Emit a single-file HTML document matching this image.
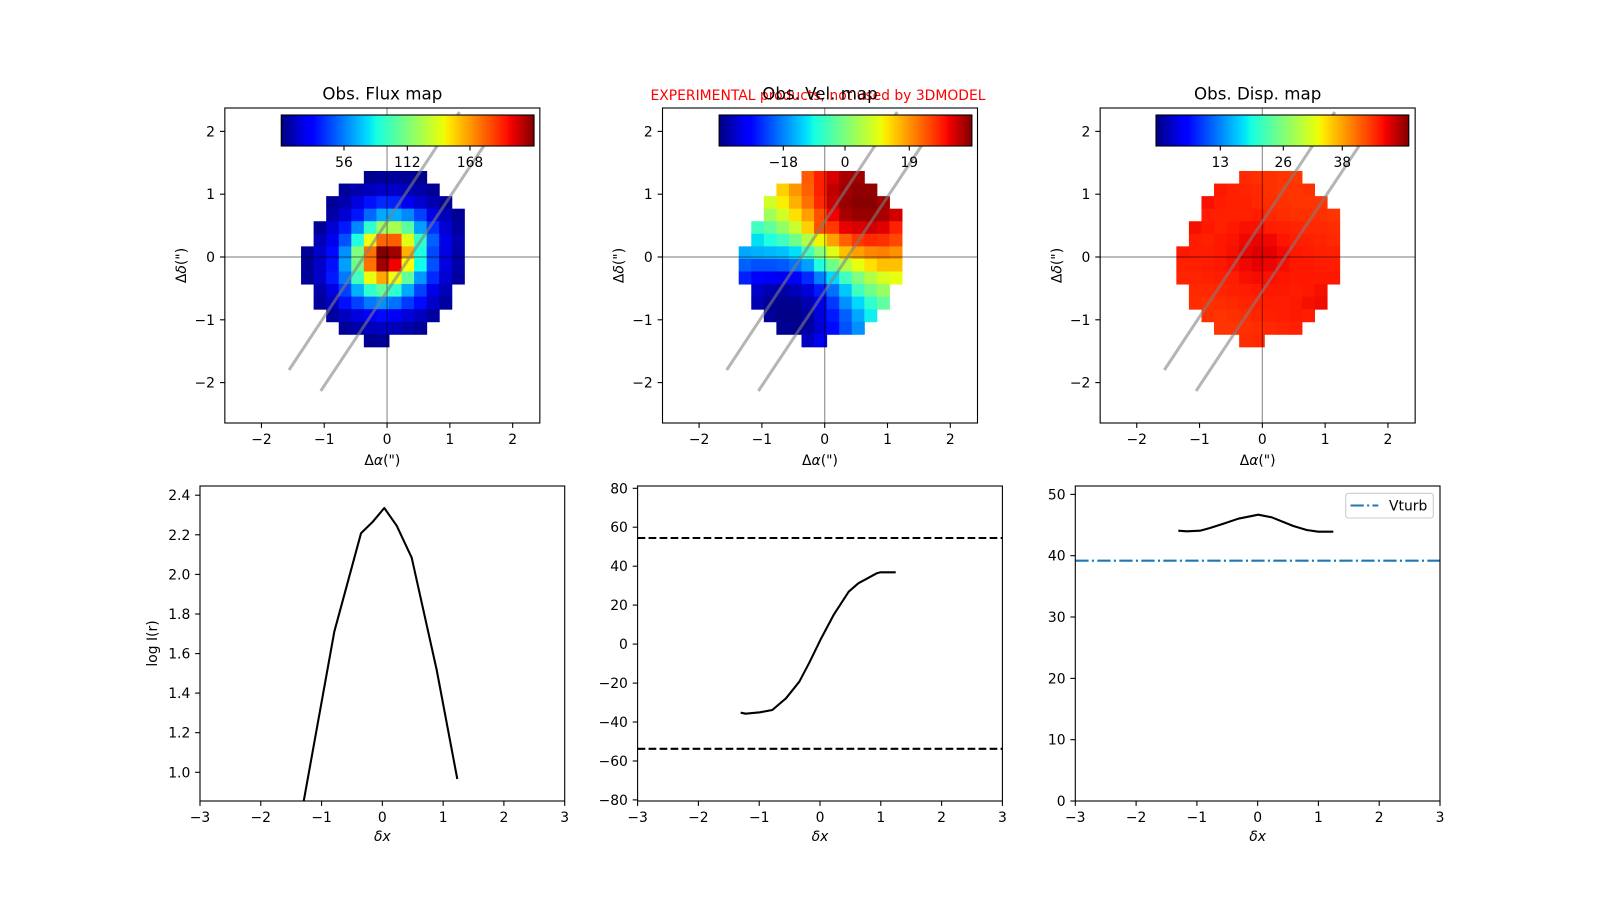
<!DOCTYPE html>
<html><head><meta charset="utf-8"><style>
html,body{margin:0;padding:0;background:#fff;}
svg{display:block;font-family:"DejaVu Sans","Liberation Sans",sans-serif;}
.t{font-size:13.9px;fill:#000;}
.ti{font-size:16.67px;fill:#000;}
</style></head><body>
<svg width="1600" height="900" viewBox="0 0 1600 900" xmlns="http://www.w3.org/2000/svg">
<defs>
<linearGradient id="jet" x1="0" y1="0" x2="1" y2="0">
<stop offset="0" stop-color="#000080"/><stop offset="0.11" stop-color="#0000ff"/><stop offset="0.125" stop-color="#0000ff"/>
<stop offset="0.34" stop-color="#00dbff"/><stop offset="0.35" stop-color="#00e5f7"/><stop offset="0.375" stop-color="#14ffe3"/>
<stop offset="0.5" stop-color="#7dff7a"/><stop offset="0.64" stop-color="#ebff08"/><stop offset="0.66" stop-color="#ffea00"/>
<stop offset="0.89" stop-color="#ff1200"/><stop offset="0.91" stop-color="#f20000"/><stop offset="1" stop-color="#800000"/>
</linearGradient>
<clipPath id="c1"><rect x="224.85" y="108" width="315" height="315"/></clipPath>
<clipPath id="c2"><rect x="662.5" y="108" width="315" height="315"/></clipPath>
<clipPath id="c3"><rect x="1100.15" y="108" width="315" height="315"/></clipPath>
<clipPath id="b1"><rect x="200" y="486" width="364.7" height="315"/></clipPath>
<clipPath id="b2"><rect x="637.6" y="486" width="364.8" height="315"/></clipPath>
<clipPath id="b3"><rect x="1075.3" y="486" width="364.7" height="315"/></clipPath>
</defs>
<rect width="1600" height="900" fill="#fff"/>

<!-- ================= FLUX MAP ================= -->
<g clip-path="url(#c1)">
<g transform="translate(301.05,171) scale(12.56)">
<rect x="5" y="0" width="1.04" height="1.04" fill="#00008f"/><rect x="6" y="0" width="1.04" height="1.04" fill="#000099"/><rect x="7" y="0" width="1.04" height="1.04" fill="#00009c"/><rect x="8" y="0" width="1.04" height="1.04" fill="#000096"/><rect x="9" y="0" width="1.04" height="1.04" fill="#00008c"/>
<rect x="3" y="1" width="1.04" height="1.04" fill="#00009a"/><rect x="4" y="1" width="1.04" height="1.04" fill="#0000ac"/><rect x="5" y="1" width="1.04" height="1.04" fill="#0000bc"/><rect x="6" y="1" width="1.04" height="1.04" fill="#0000cc"/><rect x="7" y="1" width="1.04" height="1.04" fill="#0000c8"/><rect x="8" y="1" width="1.04" height="1.04" fill="#0000b8"/><rect x="9" y="1" width="1.04" height="1.04" fill="#0000a8"/><rect x="10" y="1" width="1.04" height="1.04" fill="#000096"/>
<rect x="2" y="2" width="1.04" height="1.04" fill="#000096"/><rect x="3" y="2" width="1.04" height="1.04" fill="#0000b0"/><rect x="4" y="2" width="1.04" height="1.04" fill="#0000e0"/><rect x="5" y="2" width="1.04" height="1.04" fill="#0010ff"/><rect x="6" y="2" width="1.04" height="1.04" fill="#0028ff"/><rect x="7" y="2" width="1.04" height="1.04" fill="#0020ff"/><rect x="8" y="2" width="1.04" height="1.04" fill="#0000f0"/><rect x="9" y="2" width="1.04" height="1.04" fill="#0000d0"/><rect x="10" y="2" width="1.04" height="1.04" fill="#0000b0"/><rect x="11" y="2" width="1.04" height="1.04" fill="#000098"/>
<rect x="2" y="3" width="1.04" height="1.04" fill="#0000a4"/><rect x="3" y="3" width="1.04" height="1.04" fill="#0000d4"/><rect x="4" y="3" width="1.04" height="1.04" fill="#0014ff"/><rect x="5" y="3" width="1.04" height="1.04" fill="#0068ff"/><rect x="6" y="3" width="1.04" height="1.04" fill="#00a8ff"/><rect x="7" y="3" width="1.04" height="1.04" fill="#00acff"/><rect x="8" y="3" width="1.04" height="1.04" fill="#0088ff"/><rect x="9" y="3" width="1.04" height="1.04" fill="#0040ff"/><rect x="10" y="3" width="1.04" height="1.04" fill="#0000e4"/><rect x="11" y="3" width="1.04" height="1.04" fill="#0000b8"/><rect x="12" y="3" width="1.04" height="1.04" fill="#000096"/>
<rect x="1" y="4" width="1.04" height="1.04" fill="#000094"/><rect x="2" y="4" width="1.04" height="1.04" fill="#0000d0"/><rect x="3" y="4" width="1.04" height="1.04" fill="#0018ff"/><rect x="4" y="4" width="1.04" height="1.04" fill="#0088ff"/><rect x="5" y="4" width="1.04" height="1.04" fill="#30ffd0"/><rect x="6" y="4" width="1.04" height="1.04" fill="#a0ff60"/><rect x="7" y="4" width="1.04" height="1.04" fill="#a8ff50"/><rect x="8" y="4" width="1.04" height="1.04" fill="#5cffa0"/><rect x="9" y="4" width="1.04" height="1.04" fill="#00a0ff"/><rect x="10" y="4" width="1.04" height="1.04" fill="#0030ff"/><rect x="11" y="4" width="1.04" height="1.04" fill="#0000d0"/><rect x="12" y="4" width="1.04" height="1.04" fill="#0000a0"/>
<rect x="1" y="5" width="1.04" height="1.04" fill="#0000b8"/><rect x="2" y="5" width="1.04" height="1.04" fill="#0000ec"/><rect x="3" y="5" width="1.04" height="1.04" fill="#0050ff"/><rect x="4" y="5" width="1.04" height="1.04" fill="#20ffe0"/><rect x="5" y="5" width="1.04" height="1.04" fill="#f0ff10"/><rect x="6" y="5" width="1.04" height="1.04" fill="#ff6400"/><rect x="7" y="5" width="1.04" height="1.04" fill="#ff5c00"/><rect x="8" y="5" width="1.04" height="1.04" fill="#e0ff18"/><rect x="9" y="5" width="1.04" height="1.04" fill="#30ffc8"/><rect x="10" y="5" width="1.04" height="1.04" fill="#0060ff"/><rect x="11" y="5" width="1.04" height="1.04" fill="#0000e8"/><rect x="12" y="5" width="1.04" height="1.04" fill="#0000b0"/>
<rect x="0" y="6" width="1.04" height="1.04" fill="#000098"/><rect x="1" y="6" width="1.04" height="1.04" fill="#0000c8"/><rect x="2" y="6" width="1.04" height="1.04" fill="#0008ff"/><rect x="3" y="6" width="1.04" height="1.04" fill="#0090ff"/><rect x="4" y="6" width="1.04" height="1.04" fill="#80ff80"/><rect x="5" y="6" width="1.04" height="1.04" fill="#ff7000"/><rect x="6" y="6" width="1.04" height="1.04" fill="#800000"/><rect x="7" y="6" width="1.04" height="1.04" fill="#a00000"/><rect x="8" y="6" width="1.04" height="1.04" fill="#ffb000"/><rect x="9" y="6" width="1.04" height="1.04" fill="#20ffe0"/><rect x="10" y="6" width="1.04" height="1.04" fill="#0048ff"/><rect x="11" y="6" width="1.04" height="1.04" fill="#0000e0"/><rect x="12" y="6" width="1.04" height="1.04" fill="#0000a8"/>
<rect x="0" y="7" width="1.04" height="1.04" fill="#000098"/><rect x="1" y="7" width="1.04" height="1.04" fill="#0000c8"/><rect x="2" y="7" width="1.04" height="1.04" fill="#0010ff"/><rect x="3" y="7" width="1.04" height="1.04" fill="#00a0ff"/><rect x="4" y="7" width="1.04" height="1.04" fill="#70ff88"/><rect x="5" y="7" width="1.04" height="1.04" fill="#ff7000"/><rect x="6" y="7" width="1.04" height="1.04" fill="#a00000"/><rect x="7" y="7" width="1.04" height="1.04" fill="#f00000"/><rect x="8" y="7" width="1.04" height="1.04" fill="#ffff00"/><rect x="9" y="7" width="1.04" height="1.04" fill="#10ffe8"/><rect x="10" y="7" width="1.04" height="1.04" fill="#0050ff"/><rect x="11" y="7" width="1.04" height="1.04" fill="#0000e0"/><rect x="12" y="7" width="1.04" height="1.04" fill="#0000a8"/>
<rect x="0" y="8" width="1.04" height="1.04" fill="#000098"/><rect x="1" y="8" width="1.04" height="1.04" fill="#0000c8"/><rect x="2" y="8" width="1.04" height="1.04" fill="#0018ff"/><rect x="3" y="8" width="1.04" height="1.04" fill="#0078ff"/><rect x="4" y="8" width="1.04" height="1.04" fill="#40ffc0"/><rect x="5" y="8" width="1.04" height="1.04" fill="#e8ff10"/><rect x="6" y="8" width="1.04" height="1.04" fill="#ffa800"/><rect x="7" y="8" width="1.04" height="1.04" fill="#f0ff10"/><rect x="8" y="8" width="1.04" height="1.04" fill="#60ffa0"/><rect x="9" y="8" width="1.04" height="1.04" fill="#0098ff"/><rect x="10" y="8" width="1.04" height="1.04" fill="#0028ff"/><rect x="11" y="8" width="1.04" height="1.04" fill="#0000d0"/><rect x="12" y="8" width="1.04" height="1.04" fill="#0000a0"/>
<rect x="1" y="9" width="1.04" height="1.04" fill="#0000a8"/><rect x="2" y="9" width="1.04" height="1.04" fill="#0000e0"/><rect x="3" y="9" width="1.04" height="1.04" fill="#0040ff"/><rect x="4" y="9" width="1.04" height="1.04" fill="#00b0ff"/><rect x="5" y="9" width="1.04" height="1.04" fill="#30ffd0"/><rect x="6" y="9" width="1.04" height="1.04" fill="#60ffa0"/><rect x="7" y="9" width="1.04" height="1.04" fill="#30ffd0"/><rect x="8" y="9" width="1.04" height="1.04" fill="#00a8ff"/><rect x="9" y="9" width="1.04" height="1.04" fill="#0040ff"/><rect x="10" y="9" width="1.04" height="1.04" fill="#0000e8"/><rect x="11" y="9" width="1.04" height="1.04" fill="#0000b8"/>
<rect x="1" y="10" width="1.04" height="1.04" fill="#00009c"/><rect x="2" y="10" width="1.04" height="1.04" fill="#0000c0"/><rect x="3" y="10" width="1.04" height="1.04" fill="#0010ff"/><rect x="4" y="10" width="1.04" height="1.04" fill="#0040ff"/><rect x="5" y="10" width="1.04" height="1.04" fill="#0078ff"/><rect x="6" y="10" width="1.04" height="1.04" fill="#0090ff"/><rect x="7" y="10" width="1.04" height="1.04" fill="#0070ff"/><rect x="8" y="10" width="1.04" height="1.04" fill="#0038ff"/><rect x="9" y="10" width="1.04" height="1.04" fill="#0008ff"/><rect x="10" y="10" width="1.04" height="1.04" fill="#0000c8"/><rect x="11" y="10" width="1.04" height="1.04" fill="#0000a0"/>
<rect x="2" y="11" width="1.04" height="1.04" fill="#00009c"/><rect x="3" y="11" width="1.04" height="1.04" fill="#0000c0"/><rect x="4" y="11" width="1.04" height="1.04" fill="#0000e0"/><rect x="5" y="11" width="1.04" height="1.04" fill="#0000f8"/><rect x="6" y="11" width="1.04" height="1.04" fill="#0008ff"/><rect x="7" y="11" width="1.04" height="1.04" fill="#0000f8"/><rect x="8" y="11" width="1.04" height="1.04" fill="#0000d8"/><rect x="9" y="11" width="1.04" height="1.04" fill="#0000c0"/><rect x="10" y="11" width="1.04" height="1.04" fill="#0000a0"/>
<rect x="3" y="12" width="1.04" height="1.04" fill="#000098"/><rect x="4" y="12" width="1.04" height="1.04" fill="#0000a8"/><rect x="5" y="12" width="1.04" height="1.04" fill="#0000b8"/><rect x="6" y="12" width="1.04" height="1.04" fill="#0000c0"/><rect x="7" y="12" width="1.04" height="1.04" fill="#0000b8"/><rect x="8" y="12" width="1.04" height="1.04" fill="#0000a8"/><rect x="9" y="12" width="1.04" height="1.04" fill="#000098"/>
<rect x="5" y="13" width="1.04" height="1.04" fill="#000090"/><rect x="6" y="13" width="1.04" height="1.04" fill="#000098"/>
</g>
<g transform="translate(387.05,257)">
<line x1="0" y1="-160" x2="0" y2="170" stroke="#000" stroke-opacity="0.42" stroke-width="1.2"/>
<line x1="-170" y1="0" x2="160" y2="0" stroke="#000" stroke-opacity="0.42" stroke-width="1.2"/>
<line x1="-98" y1="113" x2="72.5" y2="-145" stroke="#808080" stroke-opacity="0.58" stroke-width="3"/>
<line x1="-66.3" y1="134" x2="98" y2="-113" stroke="#808080" stroke-opacity="0.58" stroke-width="3"/>
</g>
</g>
<rect x="224.85" y="108" width="315" height="315" fill="none" stroke="#000" stroke-width="1.1"/>
<!-- colorbar flux -->
<rect x="281.25" y="115" width="252.8" height="31" fill="url(#jet)" stroke="#000" stroke-width="1.1"/>
<g stroke="#000" stroke-width="1.1"><line x1="344" y1="146" x2="344" y2="150.5"/><line x1="407.3" y1="146" x2="407.3" y2="150.5"/><line x1="470" y1="146" x2="470" y2="150.5"/></g>
<g class="t" text-anchor="middle"><text x="344" y="167">56</text><text x="407.3" y="167">112</text><text x="470" y="167">168</text></g>
<!-- ticks flux -->
<g stroke="#000" stroke-width="1.1">
<line x1="261.45" y1="423" x2="261.45" y2="427.9"/><line x1="324.25" y1="423" x2="324.25" y2="427.9"/><line x1="387.05" y1="423" x2="387.05" y2="427.9"/><line x1="449.85" y1="423" x2="449.85" y2="427.9"/><line x1="512.65" y1="423" x2="512.65" y2="427.9"/>
<line x1="220" y1="131.4" x2="224.85" y2="131.4"/><line x1="220" y1="194.2" x2="224.85" y2="194.2"/><line x1="220" y1="257" x2="224.85" y2="257"/><line x1="220" y1="319.8" x2="224.85" y2="319.8"/><line x1="220" y1="382.6" x2="224.85" y2="382.6"/>
</g>
<g class="t" text-anchor="middle"><text x="261.45" y="444">−2</text><text x="324.25" y="444">−1</text><text x="387.05" y="444">0</text><text x="449.85" y="444">1</text><text x="512.65" y="444">2</text></g>
<g class="t" text-anchor="end"><text x="215" y="136.4">2</text><text x="215" y="199.2">1</text><text x="215" y="262">0</text><text x="215" y="324.8">−1</text><text x="215" y="387.6">−2</text></g>
<text class="t" x="382.35" y="465" text-anchor="middle">Δ<tspan font-style="italic">α</tspan>(")</text>
<text class="t" transform="translate(186,265.5) rotate(-90)" text-anchor="middle">Δ<tspan font-style="italic">δ</tspan>(")</text>
<text class="ti" x="382.35" y="99.5" text-anchor="middle">Obs. Flux map</text>

<!-- ================= VELOCITY MAP ================= -->
<g clip-path="url(#c2)">
<g transform="translate(738.7,171) scale(12.56)">
<rect x="5" y="0" width="1.04" height="1.04" fill="#ff5a00"/><rect x="6" y="0" width="1.04" height="1.04" fill="#ff2000"/><rect x="7" y="0" width="1.04" height="1.04" fill="#d80000"/><rect x="8" y="0" width="1.04" height="1.04" fill="#a80000"/><rect x="9" y="0" width="1.04" height="1.04" fill="#a00000"/>
<rect x="3" y="1" width="1.04" height="1.04" fill="#ffd000"/><rect x="4" y="1" width="1.04" height="1.04" fill="#ff9800"/><rect x="5" y="1" width="1.04" height="1.04" fill="#ff6000"/><rect x="6" y="1" width="1.04" height="1.04" fill="#ff2000"/><rect x="7" y="1" width="1.04" height="1.04" fill="#c00000"/><rect x="8" y="1" width="1.04" height="1.04" fill="#a00000"/><rect x="9" y="1" width="1.04" height="1.04" fill="#900000"/><rect x="10" y="1" width="1.04" height="1.04" fill="#900000"/>
<rect x="2" y="2" width="1.04" height="1.04" fill="#d0ff28"/><rect x="3" y="2" width="1.04" height="1.04" fill="#f8f000"/><rect x="4" y="2" width="1.04" height="1.04" fill="#ffb000"/><rect x="5" y="2" width="1.04" height="1.04" fill="#ff7000"/><rect x="6" y="2" width="1.04" height="1.04" fill="#ff2800"/><rect x="7" y="2" width="1.04" height="1.04" fill="#c80000"/><rect x="8" y="2" width="1.04" height="1.04" fill="#980000"/><rect x="9" y="2" width="1.04" height="1.04" fill="#880000"/><rect x="10" y="2" width="1.04" height="1.04" fill="#880000"/><rect x="11" y="2" width="1.04" height="1.04" fill="#a00000"/>
<rect x="2" y="3" width="1.04" height="1.04" fill="#a0ff58"/><rect x="3" y="3" width="1.04" height="1.04" fill="#d0ff28"/><rect x="4" y="3" width="1.04" height="1.04" fill="#ffe000"/><rect x="5" y="3" width="1.04" height="1.04" fill="#ffa000"/><rect x="6" y="3" width="1.04" height="1.04" fill="#ff5000"/><rect x="7" y="3" width="1.04" height="1.04" fill="#f00000"/><rect x="8" y="3" width="1.04" height="1.04" fill="#a80000"/><rect x="9" y="3" width="1.04" height="1.04" fill="#980000"/><rect x="10" y="3" width="1.04" height="1.04" fill="#980000"/><rect x="11" y="3" width="1.04" height="1.04" fill="#a80000"/><rect x="12" y="3" width="1.04" height="1.04" fill="#d00000"/>
<rect x="1" y="4" width="1.04" height="1.04" fill="#40ffc0"/><rect x="2" y="4" width="1.04" height="1.04" fill="#60ffa0"/><rect x="3" y="4" width="1.04" height="1.04" fill="#90ff68"/><rect x="4" y="4" width="1.04" height="1.04" fill="#c8ff30"/><rect x="5" y="4" width="1.04" height="1.04" fill="#ffd000"/><rect x="6" y="4" width="1.04" height="1.04" fill="#ff5000"/><rect x="7" y="4" width="1.04" height="1.04" fill="#ff3800"/><rect x="8" y="4" width="1.04" height="1.04" fill="#e80000"/><rect x="9" y="4" width="1.04" height="1.04" fill="#d80000"/><rect x="10" y="4" width="1.04" height="1.04" fill="#d00000"/><rect x="11" y="4" width="1.04" height="1.04" fill="#e00000"/><rect x="12" y="4" width="1.04" height="1.04" fill="#ff2000"/>
<rect x="1" y="5" width="1.04" height="1.04" fill="#00e0f0"/><rect x="2" y="5" width="1.04" height="1.04" fill="#20ffe0"/><rect x="3" y="5" width="1.04" height="1.04" fill="#40ffc0"/><rect x="4" y="5" width="1.04" height="1.04" fill="#70ff88"/><rect x="5" y="5" width="1.04" height="1.04" fill="#b0ff48"/><rect x="6" y="5" width="1.04" height="1.04" fill="#f0f800"/><rect x="7" y="5" width="1.04" height="1.04" fill="#ffa000"/><rect x="8" y="5" width="1.04" height="1.04" fill="#ff6000"/><rect x="9" y="5" width="1.04" height="1.04" fill="#ff3800"/><rect x="10" y="5" width="1.04" height="1.04" fill="#ff2800"/><rect x="11" y="5" width="1.04" height="1.04" fill="#ff3000"/><rect x="12" y="5" width="1.04" height="1.04" fill="#ff4800"/>
<rect x="0" y="6" width="1.04" height="1.04" fill="#00a8ff"/><rect x="1" y="6" width="1.04" height="1.04" fill="#00b0ff"/><rect x="2" y="6" width="1.04" height="1.04" fill="#00b8ff"/><rect x="3" y="6" width="1.04" height="1.04" fill="#00c0ff"/><rect x="4" y="6" width="1.04" height="1.04" fill="#00e0f8"/><rect x="5" y="6" width="1.04" height="1.04" fill="#40ffc0"/><rect x="6" y="6" width="1.04" height="1.04" fill="#88ff78"/><rect x="7" y="6" width="1.04" height="1.04" fill="#e0ff18"/><rect x="8" y="6" width="1.04" height="1.04" fill="#ffc000"/><rect x="9" y="6" width="1.04" height="1.04" fill="#ffa000"/><rect x="10" y="6" width="1.04" height="1.04" fill="#ff8800"/><rect x="11" y="6" width="1.04" height="1.04" fill="#ff8000"/><rect x="12" y="6" width="1.04" height="1.04" fill="#ff9000"/>
<rect x="0" y="7" width="1.04" height="1.04" fill="#0060ff"/><rect x="1" y="7" width="1.04" height="1.04" fill="#0050ff"/><rect x="2" y="7" width="1.04" height="1.04" fill="#0050ff"/><rect x="3" y="7" width="1.04" height="1.04" fill="#0058ff"/><rect x="4" y="7" width="1.04" height="1.04" fill="#0070ff"/><rect x="5" y="7" width="1.04" height="1.04" fill="#00a0ff"/><rect x="6" y="7" width="1.04" height="1.04" fill="#20ffe0"/><rect x="7" y="7" width="1.04" height="1.04" fill="#70ff88"/><rect x="8" y="7" width="1.04" height="1.04" fill="#b0ff48"/><rect x="9" y="7" width="1.04" height="1.04" fill="#e8ff10"/><rect x="10" y="7" width="1.04" height="1.04" fill="#ffe000"/><rect x="11" y="7" width="1.04" height="1.04" fill="#ffc000"/><rect x="12" y="7" width="1.04" height="1.04" fill="#ffc000"/>
<rect x="0" y="8" width="1.04" height="1.04" fill="#0020ff"/><rect x="1" y="8" width="1.04" height="1.04" fill="#0000ff"/><rect x="2" y="8" width="1.04" height="1.04" fill="#0000f8"/><rect x="3" y="8" width="1.04" height="1.04" fill="#0000f0"/><rect x="4" y="8" width="1.04" height="1.04" fill="#0000ff"/><rect x="5" y="8" width="1.04" height="1.04" fill="#0028ff"/><rect x="6" y="8" width="1.04" height="1.04" fill="#0080ff"/><rect x="7" y="8" width="1.04" height="1.04" fill="#00d8ff"/><rect x="8" y="8" width="1.04" height="1.04" fill="#40ffc0"/><rect x="9" y="8" width="1.04" height="1.04" fill="#80ff80"/><rect x="10" y="8" width="1.04" height="1.04" fill="#b0ff48"/><rect x="11" y="8" width="1.04" height="1.04" fill="#d8ff20"/><rect x="12" y="8" width="1.04" height="1.04" fill="#e8ff10"/>
<rect x="1" y="9" width="1.04" height="1.04" fill="#0000c8"/><rect x="2" y="9" width="1.04" height="1.04" fill="#0000b0"/><rect x="3" y="9" width="1.04" height="1.04" fill="#0000a8"/><rect x="4" y="9" width="1.04" height="1.04" fill="#0000b8"/><rect x="5" y="9" width="1.04" height="1.04" fill="#0000d8"/><rect x="6" y="9" width="1.04" height="1.04" fill="#0018ff"/><rect x="7" y="9" width="1.04" height="1.04" fill="#0070ff"/><rect x="8" y="9" width="1.04" height="1.04" fill="#00c8ff"/><rect x="9" y="9" width="1.04" height="1.04" fill="#40ffc0"/><rect x="10" y="9" width="1.04" height="1.04" fill="#70ff88"/><rect x="11" y="9" width="1.04" height="1.04" fill="#98ff60"/>
<rect x="1" y="10" width="1.04" height="1.04" fill="#0000b0"/><rect x="2" y="10" width="1.04" height="1.04" fill="#000098"/><rect x="3" y="10" width="1.04" height="1.04" fill="#00008c"/><rect x="4" y="10" width="1.04" height="1.04" fill="#000090"/><rect x="5" y="10" width="1.04" height="1.04" fill="#0000b0"/><rect x="6" y="10" width="1.04" height="1.04" fill="#0000e8"/><rect x="7" y="10" width="1.04" height="1.04" fill="#0038ff"/><rect x="8" y="10" width="1.04" height="1.04" fill="#0090ff"/><rect x="9" y="10" width="1.04" height="1.04" fill="#00d8ff"/><rect x="10" y="10" width="1.04" height="1.04" fill="#30ffd0"/><rect x="11" y="10" width="1.04" height="1.04" fill="#60ffa0"/>
<rect x="2" y="11" width="1.04" height="1.04" fill="#000098"/><rect x="3" y="11" width="1.04" height="1.04" fill="#000088"/><rect x="4" y="11" width="1.04" height="1.04" fill="#000088"/><rect x="5" y="11" width="1.04" height="1.04" fill="#0000a0"/><rect x="6" y="11" width="1.04" height="1.04" fill="#0000d8"/><rect x="7" y="11" width="1.04" height="1.04" fill="#0018ff"/><rect x="8" y="11" width="1.04" height="1.04" fill="#0060ff"/><rect x="9" y="11" width="1.04" height="1.04" fill="#00a8ff"/><rect x="10" y="11" width="1.04" height="1.04" fill="#10f0f0"/>
<rect x="3" y="12" width="1.04" height="1.04" fill="#000090"/><rect x="4" y="12" width="1.04" height="1.04" fill="#000090"/><rect x="5" y="12" width="1.04" height="1.04" fill="#0000a0"/><rect x="6" y="12" width="1.04" height="1.04" fill="#0000d0"/><rect x="7" y="12" width="1.04" height="1.04" fill="#0008ff"/><rect x="8" y="12" width="1.04" height="1.04" fill="#0050ff"/><rect x="9" y="12" width="1.04" height="1.04" fill="#0090ff"/>
<rect x="5" y="13" width="1.04" height="1.04" fill="#0000c0"/><rect x="6" y="13" width="1.04" height="1.04" fill="#0000f0"/>
</g>
<g transform="translate(824.7,257)">
<line x1="0" y1="-160" x2="0" y2="170" stroke="#000" stroke-opacity="0.42" stroke-width="1.2"/>
<line x1="-170" y1="0" x2="160" y2="0" stroke="#000" stroke-opacity="0.42" stroke-width="1.2"/>
<line x1="-98" y1="113" x2="72.5" y2="-145" stroke="#808080" stroke-opacity="0.58" stroke-width="3"/>
<line x1="-66.3" y1="134" x2="98" y2="-113" stroke="#808080" stroke-opacity="0.58" stroke-width="3"/>
</g>
</g>
<rect x="662.5" y="108" width="315" height="315" fill="none" stroke="#000" stroke-width="1.1"/>
<rect x="719.1" y="115" width="252.8" height="31" fill="url(#jet)" stroke="#000" stroke-width="1.1"/>
<g stroke="#000" stroke-width="1.1"><line x1="783.3" y1="146" x2="783.3" y2="150.5"/><line x1="845" y1="146" x2="845" y2="150.5"/><line x1="909.3" y1="146" x2="909.3" y2="150.5"/></g>
<g class="t" text-anchor="middle"><text x="783.3" y="167">−18</text><text x="845" y="167">0</text><text x="909.3" y="167">19</text></g>
<g stroke="#000" stroke-width="1.1">
<line x1="699.1" y1="423" x2="699.1" y2="427.9"/><line x1="761.9" y1="423" x2="761.9" y2="427.9"/><line x1="824.7" y1="423" x2="824.7" y2="427.9"/><line x1="887.5" y1="423" x2="887.5" y2="427.9"/><line x1="950.3" y1="423" x2="950.3" y2="427.9"/>
<line x1="657.6" y1="131.4" x2="662.5" y2="131.4"/><line x1="657.6" y1="194.2" x2="662.5" y2="194.2"/><line x1="657.6" y1="257" x2="662.5" y2="257"/><line x1="657.6" y1="319.8" x2="662.5" y2="319.8"/><line x1="657.6" y1="382.6" x2="662.5" y2="382.6"/>
</g>
<g class="t" text-anchor="middle"><text x="699.1" y="444">−2</text><text x="761.9" y="444">−1</text><text x="824.7" y="444">0</text><text x="887.5" y="444">1</text><text x="950.3" y="444">2</text></g>
<g class="t" text-anchor="end"><text x="652.7" y="136.4">2</text><text x="652.7" y="199.2">1</text><text x="652.7" y="262">0</text><text x="652.7" y="324.8">−1</text><text x="652.7" y="387.6">−2</text></g>
<text class="t" x="820" y="465" text-anchor="middle">Δ<tspan font-style="italic">α</tspan>(")</text>
<text class="t" transform="translate(623.7,265.5) rotate(-90)" text-anchor="middle">Δ<tspan font-style="italic">δ</tspan>(")</text>
<text class="t" x="818" y="100" text-anchor="middle" style="fill:#ff0000">EXPERIMENTAL products, not used by 3DMODEL</text>
<text class="ti" x="820" y="99.5" text-anchor="middle">Obs. Vel. map</text>

<!-- ================= DISPERSION MAP ================= -->
<g clip-path="url(#c3)">
<g transform="translate(1176.35,171) scale(12.56)">
<rect x="5" y="0" width="1.04" height="1.04" fill="#ff2800"/><rect x="6" y="0" width="1.04" height="1.04" fill="#ff3000"/><rect x="7" y="0" width="1.04" height="1.04" fill="#ff3000"/><rect x="8" y="0" width="1.04" height="1.04" fill="#ff3400"/><rect x="9" y="0" width="1.04" height="1.04" fill="#ff3800"/>
<rect x="3" y="1" width="1.04" height="1.04" fill="#ff1800"/><rect x="4" y="1" width="1.04" height="1.04" fill="#ff2000"/><rect x="5" y="1" width="1.04" height="1.04" fill="#ff2400"/><rect x="6" y="1" width="1.04" height="1.04" fill="#ff2800"/><rect x="7" y="1" width="1.04" height="1.04" fill="#ff3000"/><rect x="8" y="1" width="1.04" height="1.04" fill="#ff3400"/><rect x="9" y="1" width="1.04" height="1.04" fill="#ff3400"/><rect x="10" y="1" width="1.04" height="1.04" fill="#ff3000"/>
<rect x="2" y="2" width="1.04" height="1.04" fill="#fa1000"/><rect x="3" y="2" width="1.04" height="1.04" fill="#ff1c00"/><rect x="4" y="2" width="1.04" height="1.04" fill="#ff2000"/><rect x="5" y="2" width="1.04" height="1.04" fill="#ff2000"/><rect x="6" y="2" width="1.04" height="1.04" fill="#ff2800"/><rect x="7" y="2" width="1.04" height="1.04" fill="#ff2c00"/><rect x="8" y="2" width="1.04" height="1.04" fill="#ff3000"/><rect x="9" y="2" width="1.04" height="1.04" fill="#ff3400"/><rect x="10" y="2" width="1.04" height="1.04" fill="#ff3400"/><rect x="11" y="2" width="1.04" height="1.04" fill="#ff3400"/>
<rect x="2" y="3" width="1.04" height="1.04" fill="#ff1c00"/><rect x="3" y="3" width="1.04" height="1.04" fill="#ff2000"/><rect x="4" y="3" width="1.04" height="1.04" fill="#ff2000"/><rect x="5" y="3" width="1.04" height="1.04" fill="#ff2000"/><rect x="6" y="3" width="1.04" height="1.04" fill="#ff1c00"/><rect x="7" y="3" width="1.04" height="1.04" fill="#ff2800"/><rect x="8" y="3" width="1.04" height="1.04" fill="#ff2c00"/><rect x="9" y="3" width="1.04" height="1.04" fill="#ff3000"/><rect x="10" y="3" width="1.04" height="1.04" fill="#ff3000"/><rect x="11" y="3" width="1.04" height="1.04" fill="#ff3000"/><rect x="12" y="3" width="1.04" height="1.04" fill="#ff3400"/>
<rect x="1" y="4" width="1.04" height="1.04" fill="#f51000"/><rect x="2" y="4" width="1.04" height="1.04" fill="#ff1800"/><rect x="3" y="4" width="1.04" height="1.04" fill="#ff2000"/><rect x="4" y="4" width="1.04" height="1.04" fill="#ff1800"/><rect x="5" y="4" width="1.04" height="1.04" fill="#fa1000"/><rect x="6" y="4" width="1.04" height="1.04" fill="#f51000"/><rect x="7" y="4" width="1.04" height="1.04" fill="#ff1c00"/><rect x="8" y="4" width="1.04" height="1.04" fill="#ff2000"/><rect x="9" y="4" width="1.04" height="1.04" fill="#ff2400"/><rect x="10" y="4" width="1.04" height="1.04" fill="#ff2800"/><rect x="11" y="4" width="1.04" height="1.04" fill="#ff2800"/><rect x="12" y="4" width="1.04" height="1.04" fill="#ff2c00"/>
<rect x="1" y="5" width="1.04" height="1.04" fill="#ff1c00"/><rect x="2" y="5" width="1.04" height="1.04" fill="#ff2000"/><rect x="3" y="5" width="1.04" height="1.04" fill="#ff1800"/><rect x="4" y="5" width="1.04" height="1.04" fill="#fa1400"/><rect x="5" y="5" width="1.04" height="1.04" fill="#f00800"/><rect x="6" y="5" width="1.04" height="1.04" fill="#e80400"/><rect x="7" y="5" width="1.04" height="1.04" fill="#f00800"/><rect x="8" y="5" width="1.04" height="1.04" fill="#ff1400"/><rect x="9" y="5" width="1.04" height="1.04" fill="#ff1c00"/><rect x="10" y="5" width="1.04" height="1.04" fill="#ff2000"/><rect x="11" y="5" width="1.04" height="1.04" fill="#ff2400"/><rect x="12" y="5" width="1.04" height="1.04" fill="#ff2800"/>
<rect x="0" y="6" width="1.04" height="1.04" fill="#ff1800"/><rect x="1" y="6" width="1.04" height="1.04" fill="#ff1c00"/><rect x="2" y="6" width="1.04" height="1.04" fill="#ff1c00"/><rect x="3" y="6" width="1.04" height="1.04" fill="#ff1800"/><rect x="4" y="6" width="1.04" height="1.04" fill="#f51000"/><rect x="5" y="6" width="1.04" height="1.04" fill="#e80400"/><rect x="6" y="6" width="1.04" height="1.04" fill="#dc0000"/><rect x="7" y="6" width="1.04" height="1.04" fill="#e60000"/><rect x="8" y="6" width="1.04" height="1.04" fill="#f50800"/><rect x="9" y="6" width="1.04" height="1.04" fill="#ff1800"/><rect x="10" y="6" width="1.04" height="1.04" fill="#ff1c00"/><rect x="11" y="6" width="1.04" height="1.04" fill="#ff2000"/><rect x="12" y="6" width="1.04" height="1.04" fill="#ff2000"/>
<rect x="0" y="7" width="1.04" height="1.04" fill="#ff2000"/><rect x="1" y="7" width="1.04" height="1.04" fill="#ff2000"/><rect x="2" y="7" width="1.04" height="1.04" fill="#ff1c00"/><rect x="3" y="7" width="1.04" height="1.04" fill="#ff1800"/><rect x="4" y="7" width="1.04" height="1.04" fill="#fa1000"/><rect x="5" y="7" width="1.04" height="1.04" fill="#f00800"/><rect x="6" y="7" width="1.04" height="1.04" fill="#e40000"/><rect x="7" y="7" width="1.04" height="1.04" fill="#ed0400"/><rect x="8" y="7" width="1.04" height="1.04" fill="#f80c00"/><rect x="9" y="7" width="1.04" height="1.04" fill="#ff1800"/><rect x="10" y="7" width="1.04" height="1.04" fill="#ff1800"/><rect x="11" y="7" width="1.04" height="1.04" fill="#ff1c00"/><rect x="12" y="7" width="1.04" height="1.04" fill="#ff1c00"/>
<rect x="0" y="8" width="1.04" height="1.04" fill="#ff2400"/><rect x="1" y="8" width="1.04" height="1.04" fill="#ff2400"/><rect x="2" y="8" width="1.04" height="1.04" fill="#ff2000"/><rect x="3" y="8" width="1.04" height="1.04" fill="#ff1c00"/><rect x="4" y="8" width="1.04" height="1.04" fill="#ff1c00"/><rect x="5" y="8" width="1.04" height="1.04" fill="#fa1000"/><rect x="6" y="8" width="1.04" height="1.04" fill="#f50c00"/><rect x="7" y="8" width="1.04" height="1.04" fill="#fa1000"/><rect x="8" y="8" width="1.04" height="1.04" fill="#ff1400"/><rect x="9" y="8" width="1.04" height="1.04" fill="#ff1800"/><rect x="10" y="8" width="1.04" height="1.04" fill="#ff1800"/><rect x="11" y="8" width="1.04" height="1.04" fill="#ff1800"/><rect x="12" y="8" width="1.04" height="1.04" fill="#ff1800"/>
<rect x="1" y="9" width="1.04" height="1.04" fill="#ff2800"/><rect x="2" y="9" width="1.04" height="1.04" fill="#ff2800"/><rect x="3" y="9" width="1.04" height="1.04" fill="#ff2400"/><rect x="4" y="9" width="1.04" height="1.04" fill="#ff2000"/><rect x="5" y="9" width="1.04" height="1.04" fill="#ff1c00"/><rect x="6" y="9" width="1.04" height="1.04" fill="#ff1800"/><rect x="7" y="9" width="1.04" height="1.04" fill="#ff1800"/><rect x="8" y="9" width="1.04" height="1.04" fill="#ff1800"/><rect x="9" y="9" width="1.04" height="1.04" fill="#ff1c00"/><rect x="10" y="9" width="1.04" height="1.04" fill="#ff1800"/><rect x="11" y="9" width="1.04" height="1.04" fill="#f51000"/>
<rect x="1" y="10" width="1.04" height="1.04" fill="#ff2c00"/><rect x="2" y="10" width="1.04" height="1.04" fill="#ff3000"/><rect x="3" y="10" width="1.04" height="1.04" fill="#ff2c00"/><rect x="4" y="10" width="1.04" height="1.04" fill="#ff2800"/><rect x="5" y="10" width="1.04" height="1.04" fill="#ff2400"/><rect x="6" y="10" width="1.04" height="1.04" fill="#ff2000"/><rect x="7" y="10" width="1.04" height="1.04" fill="#ff1c00"/><rect x="8" y="10" width="1.04" height="1.04" fill="#ff1c00"/><rect x="9" y="10" width="1.04" height="1.04" fill="#ff1800"/><rect x="10" y="10" width="1.04" height="1.04" fill="#f51000"/><rect x="11" y="10" width="1.04" height="1.04" fill="#f00c00"/>
<rect x="2" y="11" width="1.04" height="1.04" fill="#ff3000"/><rect x="3" y="11" width="1.04" height="1.04" fill="#ff3400"/><rect x="4" y="11" width="1.04" height="1.04" fill="#ff3000"/><rect x="5" y="11" width="1.04" height="1.04" fill="#ff2c00"/><rect x="6" y="11" width="1.04" height="1.04" fill="#ff2400"/><rect x="7" y="11" width="1.04" height="1.04" fill="#ff2000"/><rect x="8" y="11" width="1.04" height="1.04" fill="#ff1c00"/><rect x="9" y="11" width="1.04" height="1.04" fill="#ff1800"/><rect x="10" y="11" width="1.04" height="1.04" fill="#ff1c00"/>
<rect x="3" y="12" width="1.04" height="1.04" fill="#ff3400"/><rect x="4" y="12" width="1.04" height="1.04" fill="#ff3400"/><rect x="5" y="12" width="1.04" height="1.04" fill="#ff3000"/><rect x="6" y="12" width="1.04" height="1.04" fill="#ff2c00"/><rect x="7" y="12" width="1.04" height="1.04" fill="#ff2800"/><rect x="8" y="12" width="1.04" height="1.04" fill="#ff2400"/><rect x="9" y="12" width="1.04" height="1.04" fill="#ff2000"/>
<rect x="5" y="13" width="1.04" height="1.04" fill="#ff2c00"/><rect x="6" y="13" width="1.04" height="1.04" fill="#ff2800"/>
</g>
<g transform="translate(1262.35,257)">
<line x1="0" y1="-160" x2="0" y2="170" stroke="#000" stroke-opacity="0.42" stroke-width="1.2"/>
<line x1="-170" y1="0" x2="160" y2="0" stroke="#000" stroke-opacity="0.42" stroke-width="1.2"/>
<line x1="-98" y1="113" x2="72.5" y2="-145" stroke="#808080" stroke-opacity="0.58" stroke-width="3"/>
<line x1="-66.3" y1="134" x2="98" y2="-113" stroke="#808080" stroke-opacity="0.58" stroke-width="3"/>
</g>
</g>
<rect x="1100.15" y="108" width="315" height="315" fill="none" stroke="#000" stroke-width="1.1"/>
<rect x="1156" y="115" width="252.8" height="31" fill="url(#jet)" stroke="#000" stroke-width="1.1"/>
<g stroke="#000" stroke-width="1.1"><line x1="1220.3" y1="146" x2="1220.3" y2="150.5"/><line x1="1283.3" y1="146" x2="1283.3" y2="150.5"/><line x1="1342.3" y1="146" x2="1342.3" y2="150.5"/></g>
<g class="t" text-anchor="middle"><text x="1220.3" y="167">13</text><text x="1283.3" y="167">26</text><text x="1342.3" y="167">38</text></g>
<g stroke="#000" stroke-width="1.1">
<line x1="1136.75" y1="423" x2="1136.75" y2="427.9"/><line x1="1199.55" y1="423" x2="1199.55" y2="427.9"/><line x1="1262.35" y1="423" x2="1262.35" y2="427.9"/><line x1="1325.15" y1="423" x2="1325.15" y2="427.9"/><line x1="1387.95" y1="423" x2="1387.95" y2="427.9"/>
<line x1="1095.3" y1="131.4" x2="1100.15" y2="131.4"/><line x1="1095.3" y1="194.2" x2="1100.15" y2="194.2"/><line x1="1095.3" y1="257" x2="1100.15" y2="257"/><line x1="1095.3" y1="319.8" x2="1100.15" y2="319.8"/><line x1="1095.3" y1="382.6" x2="1100.15" y2="382.6"/>
</g>
<g class="t" text-anchor="middle"><text x="1136.75" y="444">−2</text><text x="1199.55" y="444">−1</text><text x="1262.35" y="444">0</text><text x="1325.15" y="444">1</text><text x="1387.95" y="444">2</text></g>
<g class="t" text-anchor="end"><text x="1090.3" y="136.4">2</text><text x="1090.3" y="199.2">1</text><text x="1090.3" y="262">0</text><text x="1090.3" y="324.8">−1</text><text x="1090.3" y="387.6">−2</text></g>
<text class="t" x="1257.65" y="465" text-anchor="middle">Δ<tspan font-style="italic">α</tspan>(")</text>
<text class="t" transform="translate(1061.3,265.5) rotate(-90)" text-anchor="middle">Δ<tspan font-style="italic">δ</tspan>(")</text>
<text class="ti" x="1257.65" y="99.5" text-anchor="middle">Obs. Disp. map</text>

<!-- ================= BOTTOM LEFT ================= -->
<g clip-path="url(#b1)">
<polyline points="300.3,820 334.3,631.7 361,533.3 372.3,522.3 384.3,508 396.7,525.7 411.7,557.7 436.7,670 457.3,779" fill="none" stroke="#000" stroke-width="2.08" stroke-linejoin="round"/>
</g>
<rect x="200" y="486" width="364.7" height="315" fill="none" stroke="#000" stroke-width="1.1"/>
<g stroke="#000" stroke-width="1.1">
<line x1="200" y1="801" x2="200" y2="805.9"/><line x1="260.78" y1="801" x2="260.78" y2="805.9"/><line x1="321.56" y1="801" x2="321.56" y2="805.9"/><line x1="382.35" y1="801" x2="382.35" y2="805.9"/><line x1="443.13" y1="801" x2="443.13" y2="805.9"/><line x1="503.9" y1="801" x2="503.9" y2="805.9"/><line x1="564.7" y1="801" x2="564.7" y2="805.9"/>
<line x1="195.1" y1="772.3" x2="200" y2="772.3"/><line x1="195.1" y1="732.7" x2="200" y2="732.7"/><line x1="195.1" y1="693.1" x2="200" y2="693.1"/><line x1="195.1" y1="653.6" x2="200" y2="653.6"/><line x1="195.1" y1="614" x2="200" y2="614"/><line x1="195.1" y1="574.4" x2="200" y2="574.4"/><line x1="195.1" y1="534.8" x2="200" y2="534.8"/><line x1="195.1" y1="495.2" x2="200" y2="495.2"/>
</g>
<g class="t" text-anchor="middle"><text x="200" y="822">−3</text><text x="260.78" y="822">−2</text><text x="321.56" y="822">−1</text><text x="382.35" y="822">0</text><text x="443.13" y="822">1</text><text x="503.9" y="822">2</text><text x="564.7" y="822">3</text></g>
<g class="t" text-anchor="end"><text x="190.3" y="777.3">1.0</text><text x="190.3" y="737.7">1.2</text><text x="190.3" y="698.1">1.4</text><text x="190.3" y="658.6">1.6</text><text x="190.3" y="619">1.8</text><text x="190.3" y="579.4">2.0</text><text x="190.3" y="539.8">2.2</text><text x="190.3" y="500.2">2.4</text></g>
<text class="t" x="382.35" y="841" text-anchor="middle" font-style="italic">δx</text>
<text class="t" transform="translate(157,643.5) rotate(-90)" text-anchor="middle">log I(r)</text>

<!-- ================= BOTTOM MIDDLE ================= -->
<g clip-path="url(#b2)">
<line x1="637.6" y1="538" x2="1002.4" y2="538" stroke="#000" stroke-width="2.08" stroke-dasharray="7.7,3.3"/>
<line x1="637.6" y1="748.8" x2="1002.4" y2="748.8" stroke="#000" stroke-width="2.08" stroke-dasharray="7.7,3.3"/>
<polyline points="740.7,712.7 745.7,713.7 760,712.3 772.3,710 786,698.3 799.3,681.7 809.3,662.7 820.7,639.3 834,614.3 848.7,591.7 858.3,583.3 876.7,573.3 880.7,572.3 895.7,572.3" fill="none" stroke="#000" stroke-width="2.08" stroke-linejoin="round"/>
</g>
<rect x="637.6" y="486" width="364.8" height="315" fill="none" stroke="#000" stroke-width="1.1"/>
<g stroke="#000" stroke-width="1.1">
<line x1="637.6" y1="801" x2="637.6" y2="805.9"/><line x1="698.4" y1="801" x2="698.4" y2="805.9"/><line x1="759.2" y1="801" x2="759.2" y2="805.9"/><line x1="820" y1="801" x2="820" y2="805.9"/><line x1="880.8" y1="801" x2="880.8" y2="805.9"/><line x1="941.6" y1="801" x2="941.6" y2="805.9"/><line x1="1002.4" y1="801" x2="1002.4" y2="805.9"/>
<line x1="632.7" y1="488.3" x2="637.6" y2="488.3"/><line x1="632.7" y1="527.2" x2="637.6" y2="527.2"/><line x1="632.7" y1="566.2" x2="637.6" y2="566.2"/><line x1="632.7" y1="605.1" x2="637.6" y2="605.1"/><line x1="632.7" y1="644.1" x2="637.6" y2="644.1"/><line x1="632.7" y1="683.1" x2="637.6" y2="683.1"/><line x1="632.7" y1="722" x2="637.6" y2="722"/><line x1="632.7" y1="761" x2="637.6" y2="761"/><line x1="632.7" y1="799.9" x2="637.6" y2="799.9"/>
</g>
<g class="t" text-anchor="middle"><text x="637.6" y="822">−3</text><text x="698.4" y="822">−2</text><text x="759.2" y="822">−1</text><text x="820" y="822">0</text><text x="880.8" y="822">1</text><text x="941.6" y="822">2</text><text x="1002.4" y="822">3</text></g>
<g class="t" text-anchor="end"><text x="627.9" y="493.3">80</text><text x="627.9" y="532.2">60</text><text x="627.9" y="571.2">40</text><text x="627.9" y="610.1">20</text><text x="627.9" y="649.1">0</text><text x="627.9" y="688.1">−20</text><text x="627.9" y="727">−40</text><text x="627.9" y="766">−60</text><text x="627.9" y="804.9">−80</text></g>
<text class="t" x="820" y="841" text-anchor="middle" font-style="italic">δx</text>

<!-- ================= BOTTOM RIGHT ================= -->
<g clip-path="url(#b3)">
<line x1="1075.3" y1="560.7" x2="1440" y2="560.7" stroke="#1f77b4" stroke-width="2.08" stroke-dasharray="13.3,3.3,2.1,3.3"/>
<polyline points="1178.3,530.7 1186.7,531.3 1200,530.7 1210,528 1223.3,523.7 1238.3,518.7 1258.3,514.7 1271.7,517.3 1293.3,526 1306.7,530 1318.3,531.7 1333.3,531.7" fill="none" stroke="#000" stroke-width="2.08" stroke-linejoin="round"/>
</g>
<rect x="1075.3" y="486" width="364.7" height="315" fill="none" stroke="#000" stroke-width="1.1"/>
<g stroke="#000" stroke-width="1.1">
<line x1="1075.3" y1="801" x2="1075.3" y2="805.9"/><line x1="1136.1" y1="801" x2="1136.1" y2="805.9"/><line x1="1196.9" y1="801" x2="1196.9" y2="805.9"/><line x1="1257.65" y1="801" x2="1257.65" y2="805.9"/><line x1="1318.4" y1="801" x2="1318.4" y2="805.9"/><line x1="1379.2" y1="801" x2="1379.2" y2="805.9"/><line x1="1440" y1="801" x2="1440" y2="805.9"/>
<line x1="1070.4" y1="801" x2="1075.3" y2="801"/><line x1="1070.4" y1="739.7" x2="1075.3" y2="739.7"/><line x1="1070.4" y1="678.4" x2="1075.3" y2="678.4"/><line x1="1070.4" y1="617" x2="1075.3" y2="617"/><line x1="1070.4" y1="555.7" x2="1075.3" y2="555.7"/><line x1="1070.4" y1="494.4" x2="1075.3" y2="494.4"/>
</g>
<g class="t" text-anchor="middle"><text x="1075.3" y="822">−3</text><text x="1136.1" y="822">−2</text><text x="1196.9" y="822">−1</text><text x="1257.65" y="822">0</text><text x="1318.4" y="822">1</text><text x="1379.2" y="822">2</text><text x="1440" y="822">3</text></g>
<g class="t" text-anchor="end"><text x="1065.6" y="806">0</text><text x="1065.6" y="744.7">10</text><text x="1065.6" y="683.4">20</text><text x="1065.6" y="622">30</text><text x="1065.6" y="560.7">40</text><text x="1065.6" y="499.4">50</text></g>
<text class="t" x="1257.65" y="841" text-anchor="middle" font-style="italic">δx</text>
<!-- legend -->
<rect x="1345.7" y="493.3" width="87.6" height="24.7" rx="2.8" ry="2.8" fill="#fff" fill-opacity="0.8" stroke="#cccccc" stroke-width="1.1"/>
<line x1="1350.5" y1="505.5" x2="1378.3" y2="505.5" stroke="#1f77b4" stroke-width="2.08" stroke-dasharray="13.3,3.3,2.1,3.3"/>
<text class="t" x="1389" y="510.3">Vturb</text>
</svg>
</body></html>
